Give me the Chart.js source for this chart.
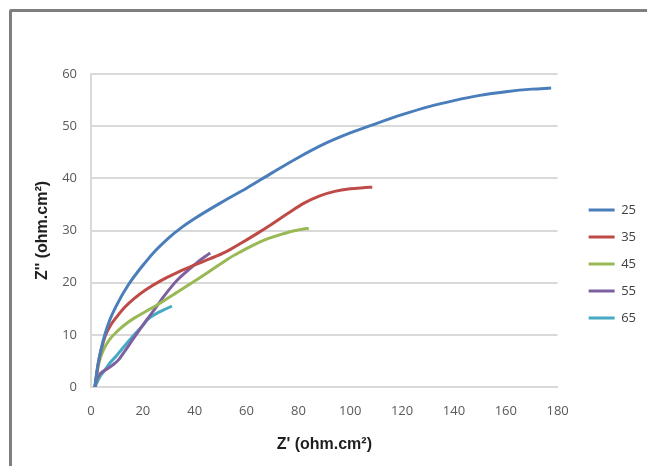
<!DOCTYPE html>
<html>
<head>
<meta charset="utf-8">
<script src="https://cdn.jsdelivr.net/npm/chart.js@4.4.0/dist/chart.umd.min.js"></script>
<style>
    html, body { margin: 0; padding: 0; background: #fff; overflow: hidden; }
    #wrap { position: relative; width: 647px; height: 466px; }
    #frame {
        position: absolute; left: 9px; top: 9px; width: 700px; height: 500px;
        border-top: 3px solid #7f7f7f; border-left: 3px solid #7f7f7f;
        border-top-left-radius: 3px;
    }
    #chart { position: absolute; left: 0; top: 0; }
</style>
</head>
<body>
<div id="wrap">
    <div id="frame"></div>
    <canvas id="chart" width="647" height="466"></canvas>
</div>
<script>
// temperature series (legend labels)
const seriesLabels = ['25', '35', '45', '55', '65'];
const seriesColors = ['#4a7ebb', '#be4b48', '#98b954', '#7d60a0', '#46aac5'];

// Z' values (x) for each series
const x25 = [1.5, 2.5, 4.1, 5.5, 7.2, 10, 14.3, 20.8, 25, 30, 35, 40, 50, 60, 70, 80, 90, 100, 110, 120, 130, 140, 150, 160, 170, 177.5];
const x35 = [1.5, 2.8, 4, 5.5, 7.5, 10, 13, 16.5, 21, 27, 34, 40, 46, 52, 58, 64, 70, 76, 82, 88, 94, 100, 105, 108.5];
const x45 = [1.5, 3, 5, 7, 10.6, 14.3, 17, 23.3, 28, 32.4, 40, 47, 53, 58, 63, 68, 73, 78, 82, 84];
const x55 = [1.5, 2.5, 3.9, 6, 8.6, 10.6, 12.5, 16.4, 21.4, 25, 28.3, 31, 33.5, 37.5, 41, 44, 46];
const x65 = [1.5, 3.5, 5, 7.3, 10, 13, 17, 20, 22, 26, 29, 31.2];

// Z'' values (y) for each series
const y25 = [0, 3.8, 7.7, 10.3, 12.8, 15.8, 19.5, 23.8, 26.2, 28.6, 30.6, 32.3, 35.3, 38.1, 41.1, 44, 46.6, 48.7, 50.5, 52.2, 53.7, 54.9, 55.9, 56.6, 57.1, 57.3];
const y35 = [0, 4.5, 7.3, 9.8, 11.8, 13.5, 15.3, 16.9, 18.6, 20.4, 22.1, 23.4, 24.6, 25.9, 27.6, 29.4, 31.3, 33.3, 35.2, 36.6, 37.5, 38, 38.2, 38.3];
const y45 = [0, 4.5, 7.3, 9, 10.9, 12.4, 13.3, 15.1, 16.5, 17.9, 20.3, 22.6, 24.6, 26, 27.3, 28.4, 29.2, 29.9, 30.3, 30.4];
const y55 = [0, 1.8, 2.7, 3.4, 4.3, 5.2, 6.5, 9.3, 12.8, 15.2, 17.5, 19.2, 20.6, 22.4, 23.9, 25, 25.7];
const y65 = [0, 2, 3, 4.6, 6.1, 7.9, 10.2, 11.8, 13, 14.3, 15, 15.5];

// axis ranges / ticks
const xTicks = [0, 20, 40, 60, 80, 100, 120, 140, 160, 180];
const yTicks = [0, 10, 20, 30, 40, 50, 60];

const xs = [x25, x35, x45, x55, x65];
const ys = [y25, y35, y45, y55, y65];

// build point lists
function toPoints(xArr, yArr) {
    return xArr.map((v, i) => ({ x: v, y: yArr[i] }));
}

const datasets = seriesLabels.map((label, i) => ({
    label: label,
    data: toPoints(xs[i], ys[i]),
    borderColor: seriesColors[i],
    backgroundColor: seriesColors[i],
    borderWidth: 3,
    pointRadius: 0,
    showLine: true,
    cubicInterpolationMode: 'monotone',
    fill: false
}));

const tickFont = { family: 'Open Sans', size: 13 };
const titleFont = { family: 'Liberation Sans', size: 16, weight: 'bold' };

new Chart(document.getElementById('chart'), {
    type: 'scatter',
    data: { datasets: datasets },
    options: {
        responsive: false,
        animation: false,
        layout: {
            padding: { top: 74, left: 29, right: 1, bottom: 12 }
        },
        plugins: {
            legend: {
                position: 'right',
                labels: {
                    usePointStyle: true,
                    pointStyle: 'line',
                    pointStyleWidth: 26,
                    padding: 14,
                    color: '#404040',
                    font: { family: 'Open Sans', size: 13 }
                }
            },
            tooltip: { enabled: false }
        },
        scales: {
            x: {
                type: 'linear',
                min: xTicks[0],
                max: xTicks[xTicks.length - 1],
                afterBuildTicks: axis => { axis.ticks = xTicks.map(v => ({ value: v })); },
                afterFit: axis => { axis.height = 67; },
                grid: { display: false, drawTicks: false },
                border: { display: true, color: '#d9d9d9', width: 2 },
                ticks: { color: '#595959', font: tickFont, padding: 16 },
                title: {
                    display: true,
                    text: "Z' (ohm.cm²)",
                    color: '#1f1f1f',
                    font: titleFont,
                    padding: { top: 0, bottom: 0 }
                }
            },
            y: {
                type: 'linear',
                min: yTicks[0],
                max: yTicks[yTicks.length - 1],
                afterBuildTicks: axis => { axis.ticks = yTicks.map(v => ({ value: v })); },
                afterFit: axis => { axis.width = 62; },
                grid: { color: '#d9d9d9', lineWidth: 2, drawTicks: false },
                border: { display: true, color: '#d9d9d9', width: 2 },
                ticks: { color: '#595959', font: tickFont, padding: 14 },
                title: {
                    display: true,
                    text: "Z'' (ohm.cm²)",
                    color: '#1f1f1f',
                    font: titleFont,
                    padding: { top: 4, bottom: 0 }
                }
            },
            // empty spacer between plot and legend
            gap: {
                type: 'linear',
                position: 'right',
                display: true,
                grid: { display: false },
                border: { display: false },
                ticks: { display: false },
                afterFit: axis => { axis.width = 17; }
            }
        }
    }
});
</script>
</body>
</html>
